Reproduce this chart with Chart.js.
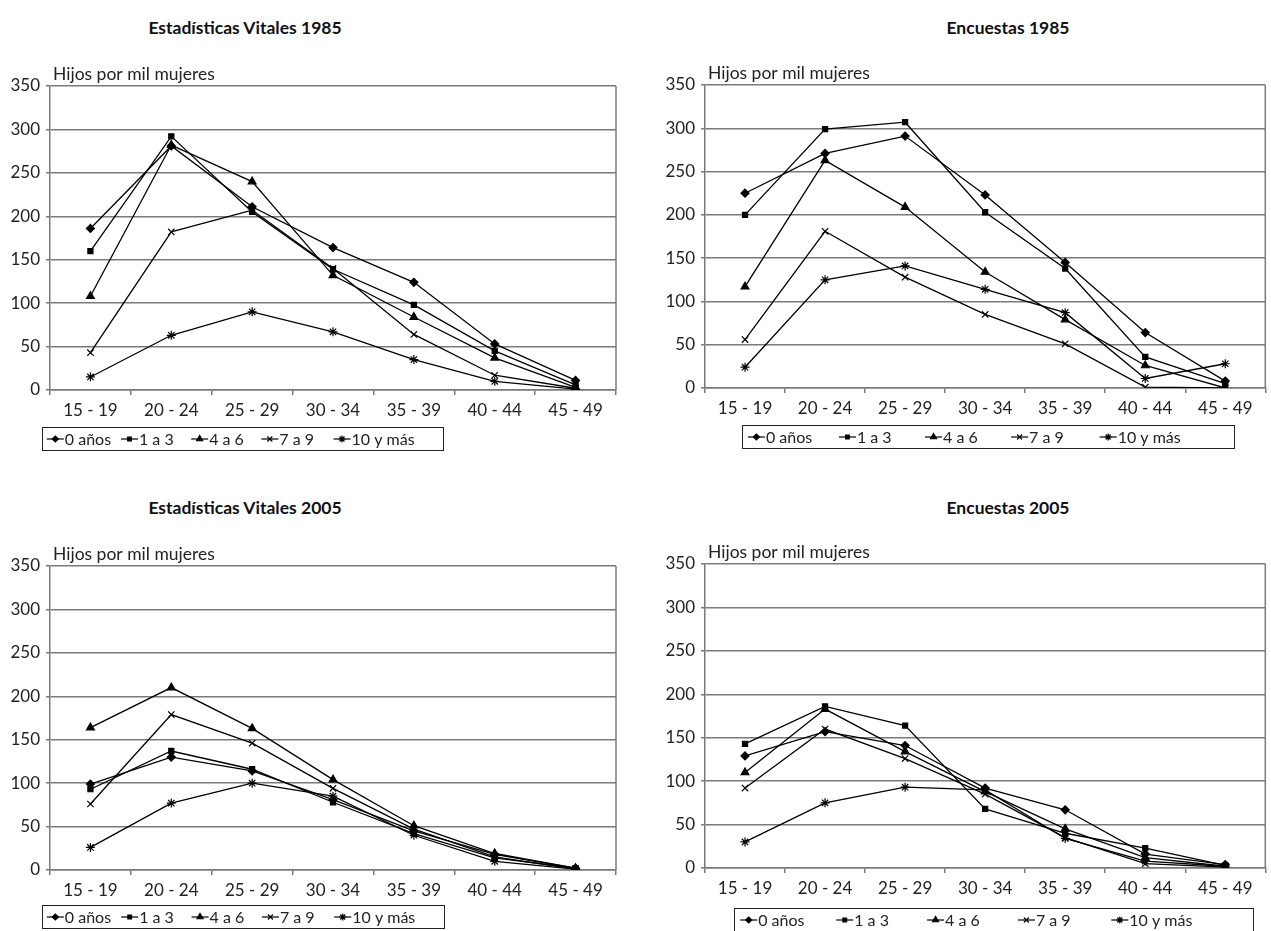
<!DOCTYPE html>
<html>
<head>
<meta charset="utf-8">
<script src="https://cdn.jsdelivr.net/npm/chart.js@4.4.1/dist/chart.umd.min.js"></script>
<style>
  body { margin: 0; background: #fff; width: 1271px; height: 931px; overflow: hidden; position: relative; font-family: Lato, sans-serif; }
  .title { position: absolute; font-weight: bold; font-size: 17.5px; color: #111; transform: translate(-50%, -50%); white-space: nowrap; }
  .box { position: absolute; }
</style>
</head>
<body>
<div class="title" style="left:245px; top:27px">Estadísticas Vitales 1985</div>
<div class="title" style="left:1008px; top:27px">Encuestas 1985</div>
<div class="title" style="left:245px; top:507px">Estadísticas Vitales 2005</div>
<div class="title" style="left:1008px; top:507px">Encuestas 2005</div>

<div class="box" style="left:0; top:60px"><canvas id="c1" width="640" height="400"></canvas></div>
<div class="box" style="left:640px; top:60px"><canvas id="c2" width="631" height="400"></canvas></div>
<div class="box" style="left:0; top:540px"><canvas id="c3" width="640" height="391"></canvas></div>
<div class="box" style="left:640px; top:540px"><canvas id="c4" width="631" height="391"></canvas></div>

<script>
const ageGroups = ["15 - 19", "20 - 24", "25 - 29", "30 - 34", "35 - 39", "40 - 44", "45 - 49"];
const seriesNames = ["0 años", "1 a 3", "4 a 6", "7 a 9", "10 y más"];
const yTitle = "Hijos por mil mujeres";

// rows: 0 años, 1 a 3, 4 a 6, 7 a 9, 10 y más
const vitales1985 = [
  [186, 281, 211, 164, 124, 53, 11],
  [160, 292, 205, 139, 98, 45, 6],
  [108, 282, 240, 132, 84, 37, 3],
  [43, 182, 207, 140, 64, 17, 2],
  [15, 63, 90, 67, 35, 10, 1]
];
const encuestas1985 = [
  [225, 271, 291, 223, 145, 64, 8],
  [200, 299, 307, 203, 138, 36, 5],
  [117, 263, 209, 134, 79, 26, 0],
  [56, 181, 128, 85, 51, 1, 0],
  [24, 125, 141, 114, 87, 11, 28]
];
const vitales2005 = [
  [99, 130, 114, 81, 45, 18, 2],
  [93, 137, 116, 78, 42, 14, 2],
  [164, 210, 163, 104, 51, 19, 2],
  [76, 179, 146, 94, 47, 15, 1],
  [26, 77, 100, 85, 40, 10, 1]
];
const encuestas2005 = [
  [129, 157, 141, 92, 67, 16, 4],
  [143, 186, 164, 68, 40, 23, 3],
  [110, 183, 134, 88, 45, 12, 2],
  [92, 160, 126, 85, 35, 5, 1],
  [30, 75, 93, 90, 34, 8, 2]
];

const markers = ["rectRot", "rect", "triangle", "crossRot", "star"];
const markerSize = [4, 3.6, 4.5, 4.5, 4.5];
const gridColor = "#7a7a7a";
const textColor = "#222";
const font = { family: "Lato", size: 17 };

// frame on the right + y title above the plot
const framePlugin = {
  id: "frame",
  beforeDatasetsDraw(chart) {
    const { ctx, chartArea: a } = chart;
    ctx.save();
    ctx.strokeStyle = gridColor;
    ctx.lineWidth = 1.5;
    ctx.beginPath();
    ctx.moveTo(a.right, a.top);
    ctx.lineTo(a.right, a.bottom);
    ctx.stroke();
    ctx.fillStyle = textColor;
    ctx.font = "17.5px Lato";
    ctx.textBaseline = "alphabetic";
    ctx.fillText(yTitle, a.left + 3, a.top - 6);
    ctx.restore();
  }
};

// boxed legend with line + marker samples
const boxLegend = {
  id: "boxLegend",
  afterDraw(chart, args, opts) {
    const { ctx, chartArea: a } = chart;
    const x0 = a.left + opts.dx, y0 = a.bottom + opts.dy;
    ctx.save();
    ctx.strokeStyle = "#222";
    ctx.lineWidth = 1;
    ctx.strokeRect(x0 + 0.5, y0 + 0.5, opts.w, opts.h);
    const fr = [0.012, 0.197, 0.372, 0.547, 0.727];
    const cy = y0 + opts.h / 2 + 0.5;
    ctx.font = "16px Lato";
    ctx.textBaseline = "middle";
    chart.data.datasets.forEach((ds, i) => {
      const lx = x0 + fr[i] * opts.w;
      ctx.strokeStyle = "#000";
      ctx.fillStyle = "#000";
      ctx.lineWidth = 1.2;
      ctx.beginPath();
      ctx.moveTo(lx, cy);
      ctx.lineTo(lx + 17, cy);
      ctx.stroke();
      Chart.helpers.drawPoint(ctx, { pointStyle: markers[i], radius: markerSize[i] - 1, borderWidth: 1, rotation: 0 }, lx + 8.5, cy);
      ctx.fillStyle = textColor;
      ctx.fillText(ds.label, lx + 18, cy + 1);
    });
    ctx.restore();
  }
};

function makeChart(id, rows, pad, legendBox) {
  new Chart(document.getElementById(id), {
    type: "line",
    data: {
      labels: ageGroups,
      datasets: seriesNames.map((name, i) => ({
        label: name,
        data: rows[i],
        borderColor: "#000",
        backgroundColor: "#000",
        borderWidth: 1.3,
        pointStyle: markers[i],
        pointRadius: markerSize[i],
        pointBorderWidth: 1.2,
        tension: 0,
        fill: false
      }))
    },
    options: {
      responsive: false,
      animation: false,
      devicePixelRatio: 1,
      layout: { padding: pad },
      plugins: {
        legend: { display: false },
        tooltip: { enabled: false },
        boxLegend: legendBox
      },
      scales: {
        x: {
          offset: true,
          grid: { offset: true, drawOnChartArea: false, drawTicks: true, tickLength: 5, color: gridColor, lineWidth: 1.5 },
          border: { display: true, color: gridColor, width: 1.5 },
          ticks: { color: textColor, font, padding: 5, maxRotation: 0, autoSkip: false },
          afterFit(s) { s.height = 30; }
        },
        y: {
          min: 0, max: 350,
          ticks: { stepSize: 50, color: textColor, font, padding: 6 },
          grid: { color: gridColor, lineWidth: 1.5, tickLength: 4 },
          border: { display: true, color: gridColor, width: 1.5 },
          afterFit(s) { s.width = 46; }
        }
      }
    },
    plugins: [framePlugin, boxLegend]
  });
}

makeChart("c1", vitales1985, { left: 4, right: 24, top: 26, bottom: 40 }, { dx: -8, dy: 37, w: 401, h: 23 });
makeChart("c2", encuestas1985, { left: 19, right: 3, top: 25, bottom: 42 }, { dx: 37, dy: 37, w: 492, h: 23 });
makeChart("c3", vitales2005, { left: 4, right: 24, top: 26, bottom: 31 }, { dx: -8, dy: 35, w: 402, h: 23 });
makeChart("c4", encuestas2005, { left: 19, right: 3, top: 24, bottom: 33 }, { dx: 29, dy: 40, w: 519, h: 23 });
</script>
</body>
</html>
